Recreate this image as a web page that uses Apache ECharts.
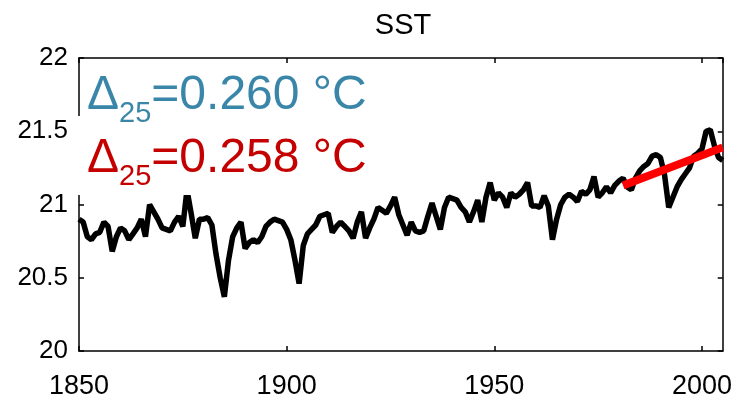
<!DOCTYPE html>
<html>
<head>
<meta charset="utf-8">
<script src="https://cdn.jsdelivr.net/npm/echarts@6/dist/echarts.min.js"></script>
<style>
  html, body { margin: 0; padding: 0; background: #fff; }
  #chart { width: 735px; height: 400px; }
</style>
</head>
<body>
<div id="chart"></div>
<script>
// annual SST series, 1850-2005
const years = []
for (let y = 1850; y <= 2005; y++) years.push(y)

const sst = [
  20.90, 20.88, 20.78, 20.76, 20.80, 20.81, 20.88, 20.85, 20.68, 20.78,
  20.84, 20.82, 20.76, 20.80, 20.84, 20.90, 20.78, 21.00, 20.95, 20.90,
  20.84, 20.83, 20.82, 20.88, 20.92, 20.85, 21.10, 20.94, 20.77, 20.90,
  20.90, 20.91, 20.86, 20.66, 20.50, 20.37, 20.62, 20.78, 20.84, 20.88,
  20.70, 20.74, 20.76, 20.74, 20.78, 20.85, 20.88, 20.90, 20.89, 20.88,
  20.83, 20.76, 20.62, 20.46, 20.72, 20.80, 20.83, 20.86, 20.92, 20.93,
  20.94, 20.81, 20.85, 20.88, 20.85, 20.82, 20.77, 20.88, 20.95, 20.77,
  20.84, 20.90, 20.98, 20.96, 20.94, 20.99, 21.05, 20.93, 20.86, 20.79,
  20.88, 20.82, 20.81, 20.82, 20.92, 21.01, 20.92, 20.83, 20.98, 21.05,
  21.04, 21.03, 20.98, 20.95, 20.88, 20.95, 21.03, 20.88, 21.05, 21.15,
  21.03, 21.08, 21.05, 20.98, 21.08, 21.05, 21.07, 21.10, 21.15, 20.99,
  20.99, 20.98, 21.06, 20.99, 20.76, 20.90, 21.00, 21.05, 21.07, 21.05,
  21.02, 21.09, 21.07, 21.10, 21.19, 21.05, 21.08, 21.12, 21.08, 21.13,
  21.16, 21.18, 21.12, 21.10, 21.18, 21.23, 21.26, 21.28, 21.33, 21.34,
  21.32, 21.20, 20.98, 21.05, 21.12, 21.17, 21.21, 21.25, 21.33, 21.35,
  21.38, 21.50, 21.51, 21.40, 21.32, 21.30
]

// 25-year linear trend (1981-2005)
const trendYears = [1981, 2005]
const trendValues = [21.13, 21.39]

const xTicks = [1850, 1900, 1950, 2000]
const yTicks = [20, 20.5, 21, 21.5, 22]

const chart = echarts.init(document.getElementById('chart'))

const font = "'Liberation Sans', Arial, sans-serif"

// shared axis style: black frame, inward ticks
const frameAxis = (extra) => Object.assign({
  type: 'value',
  axisLine: { show: true, lineStyle: { color: '#000', width: 1.5 } },
  axisTick: { show: true, inside: true, length: 5, lineStyle: { color: '#000', width: 1.5 } },
  splitLine: { show: false }
}, extra)

const labelStyle = { color: '#000', fontSize: 26, fontFamily: font }

const annotation = (text, color, top) => ({
  type: 'text',
  left: 87,
  top: top,
  z: 100,
  style: {
    text: text,
    rich: {
      m: { fontSize: 48, fontFamily: font, fill: color, lineHeight: 58 },
      s: { fontSize: 29, fontFamily: font, fill: color, lineHeight: 20, padding: [35, 0, 0, 0] }
    }
  }
})

chart.setOption({
  animation: false,
  backgroundColor: '#fff',
  title: {
    text: 'SST',
    left: 398,
    top: 6,
    textAlign: 'center',
    textStyle: { fontSize: 29, fontWeight: 'normal', color: '#000', fontFamily: font }
  },
  grid: { left: 79, right: 12, top: 58, bottom: 49 },
  xAxis: [
    frameAxis({
      position: 'bottom',
      min: xTicks[0],
      max: 2005,
      interval: 50,
      axisLabel: {
        ...labelStyle,
        fontSize: 27,
        margin: 22,
        showMaxLabel: false,
        formatter: v => xTicks.includes(v) ? String(v) : ''
      }
    }),
    frameAxis({
      position: 'top',
      min: xTicks[0],
      max: 2005,
      interval: 50,
      axisLabel: { show: false }
    })
  ],
  yAxis: [
    frameAxis({
      position: 'left',
      min: yTicks[0],
      max: yTicks[yTicks.length - 1],
      interval: 0.5,
      axisLabel: { ...labelStyle, margin: 11 }
    }),
    frameAxis({
      position: 'right',
      min: yTicks[0],
      max: yTicks[yTicks.length - 1],
      interval: 0.5,
      axisLabel: { show: false }
    })
  ],
  series: [
    {
      type: 'line',
      data: years.map((y, i) => [y, sst[i]]),
      showSymbol: false,
      lineStyle: { color: '#000', width: 5.5 },
      z: 2
    },
    {
      type: 'line',
      data: trendYears.map((y, i) => [y, trendValues[i]]),
      showSymbol: false,
      lineStyle: { color: '#ff0000', width: 8 },
      z: 3
    }
  ],
  graphic: [
    // white box behind the red label
    {
      type: 'rect',
      left: 77,
      top: 116,
      z: 90,
      shape: { width: 300, height: 79 },
      style: { fill: '#fff' }
    },
    annotation('{m|Δ}{s|25}{m|=0.260 °C}', '#3a86a8', 64),
    annotation('{m|Δ}{s|25}{m|=0.258 °C}', '#c40000', 127)
  ]
})
</script>
</body>
</html>
